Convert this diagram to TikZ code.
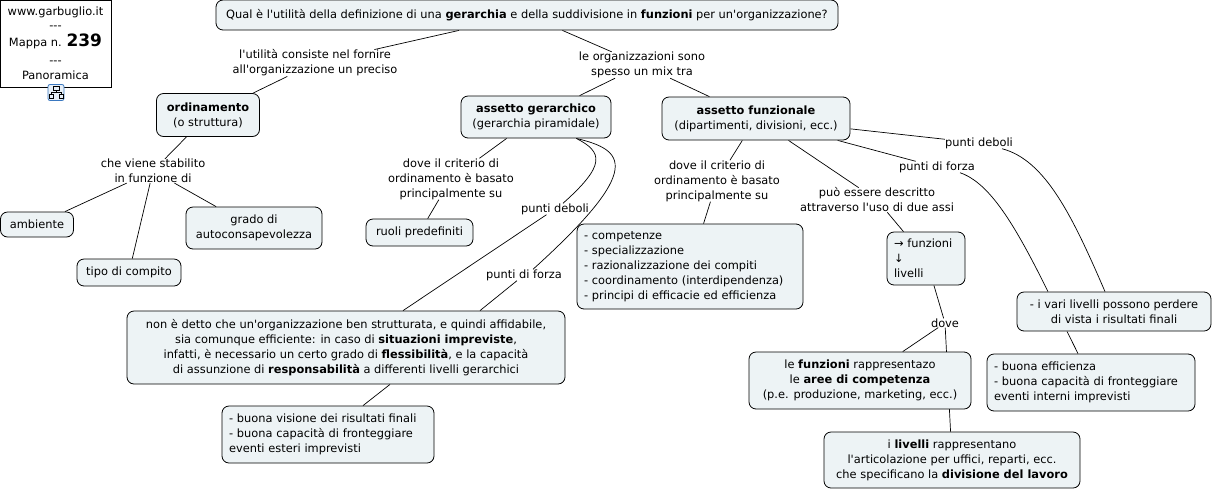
\documentclass[tikz,border=0pt]{standalone}
\usepackage{fontspec}
\newfontfamily\mapfont{DejaVu Sans}
\usetikzlibrary{backgrounds}
\definecolor{boxfill}{HTML}{EDF3F5}
\definecolor{iconblue}{HTML}{3A78C0}
\tikzstyle{concept} = [draw=black, fill=boxfill, rounded corners=7pt, line width=.8pt, inner sep=0pt, align=center]
\tikzstyle{listing} = [concept, inner xsep=7pt, align=left]
\tikzstyle{phrase} = [inner sep=0pt, align=center]
\tikzstyle{link} = [line width=.7pt]
\begin{document}
\begin{tikzpicture}[x=1pt,y=-1pt,font=\mapfont\fontsize{11.4}{15}\selectfont]
      \useasboundingbox (0,0) rectangle (1214,491);
      % info
      \node[draw=black, fill=white, line width=.8pt, inner sep=0pt, minimum width=111pt, minimum height=87pt, align=center] (info) at (55.5,43.5) {www.garbuglio.it\\[-1pt]---\\[2pt]Mappa n. {\fontsize{17}{15}\selectfont\bfseries 239}\\[3pt]---\\Panoramica};
      \node[draw=iconblue, fill=iconblue!12, rounded corners=2pt, line width=.8pt, minimum size=16pt, inner sep=0pt] (icon) at (56,92.5) {};
      \draw[line width=.7pt] (53,86.5) rectangle (59,90) (56,90) -- (56,92) (51,92) -- (61,92) (51,92) -- (51,94) (61,92) -- (61,94) (49,94) rectangle (53,98) (59,94) rectangle (63,98);
      % concepts
      \node[concept, minimum width=622pt, minimum height=30pt] (top) at (527,15) {Qual è l'utilità della definizione di una \textbf{gerarchia} e della suddivisione in \textbf{funzioni} per un'organizzazione?};
      \node[concept, minimum width=103pt, minimum height=43pt] (ord) at (208,115) {\textbf{ordinamento}\\(o struttura)};
      \node[concept, minimum width=150pt, minimum height=42pt] (ger) at (536,117) {\textbf{assetto gerarchico}\\(gerarchia piramidale)};
      \node[concept, minimum width=188pt, minimum height=43pt] (fun) at (756,118.5) {\textbf{assetto funzionale}\\(dipartimenti, divisioni, ecc.)};
      \node[concept, minimum width=73pt, minimum height=25pt] (amb) at (37,224.5) {ambiente};
      \node[concept, minimum width=104pt, minimum height=27pt] (tip) at (129,272.5) {tipo di compito};
      \node[concept, minimum width=136pt, minimum height=42pt] (gra) at (254,228) {grado di\\autoconsapevolezza};
      \node[concept, minimum width=107pt, minimum height=27pt] (ruo) at (419.5,232.5) {ruoli predefiniti};
      \node[listing, text width=212pt, minimum height=85pt] (com) at (690,266.5) {- competenze\\- specializzazione\\- razionalizzazione dei compiti\\- coordinamento (interdipendenza)\\- principi di efficacie ed efficienza};
      \node[listing, text width=64pt, minimum height=53pt] (ass) at (926,258.5) {→ funzioni\\↓\\livelli};
      \node[concept, minimum width=438pt, minimum height=73pt] (non) at (346,347.5) {non è detto che un'organizzazione ben strutturata, e quindi affidabile,\\sia comunque efficiente: in caso di \textbf{situazioni impreviste},\\infatti, è necessario un certo grado di \textbf{flessibilità}, e la capacità\\di assunzione di \textbf{responsabilità} a differenti livelli gerarchici};
      \node[listing, text width=198pt, minimum height=57pt] (vis) at (328,434.5) {- buona visione dei risultati finali\\- buona capacità di fronteggiare\\eventi esteri imprevisti};
      \node[concept, minimum width=194pt, minimum height=39pt] (var) at (1114,311.5) {- i vari livelli possono perdere\\di vista i risultati finali};
      \node[listing, text width=194pt, minimum height=57pt] (eff) at (1091,382.5) {- buona efficienza\\- buona capacità di fronteggiare\\eventi interni imprevisti};
      \node[concept, minimum width=222pt, minimum height=57pt] (fra) at (860,380.5) {le \textbf{funzioni} rappresentazo\\le \textbf{aree di competenza}\\(p.e. produzione, marketing, ecc.)};
      \node[concept, minimum width=256pt, minimum height=56pt] (lra) at (952,460) {i \textbf{livelli} rappresentano\\l'articolazione per uffici, reparti, ecc.\\che specificano la \textbf{divisione del lavoro}};
      % phrases
      \node[phrase] (p1) at (315,63) {l'utilità consiste nel fornire\\all'organizzazione un preciso};
      \node[phrase] (p2) at (642,65) {le organizzazioni sono\\spesso un mix tra};
      \node[phrase] (p3) at (153,171) {che viene stabilito\\in funzione di};
      \node[phrase] (p4) at (451,179) {dove il criterio di\\ordinamento è basato\\principalmente su};
      \node[phrase] (p5) at (717,181) {dove il criterio di\\ordinamento è basato\\principalmente su};
      \node[phrase] (p6) at (877,200) {può essere descritto\\attraverso l'uso di due assi};
      \node[phrase] (p7) at (555,209) {punti deboli};
      \node[phrase] (p8) at (524,275) {punti di forza};
      \node[phrase] (p9) at (979,143) {punti deboli};
      \node[phrase] (p10) at (937,167) {punti di forza};
      \node[phrase] (p11) at (945,323) {dove};
      % connectors
      \begin{pgfonlayer}{background}
      \draw[link] (top) -- (p1);
      \draw[link] (top) -- (p2);
      \draw[link] (p1) -- (ord);
      \draw[link] (p2) -- (ger);
      \draw[link] (p2) -- (fun);
      \draw[link] (ord) -- (p3);
      \draw[link] (p3) -- (amb);
      \draw[link] (p3) -- (tip);
      \draw[link] (p3) -- (gra);
      \draw[link] (ger) -- (p4);
      \draw[link] (p4) -- (ruo);
      \draw[link] (fun) -- (p5);
      \draw[link] (p5) -- (com);
      \draw[link] (fun) -- (p6);
      \draw[link] (p6) -- (ass);
      \draw[link] (ass) -- (p11);
      \draw[link] (p11) -- (fra);
      \draw[link] (p11) -- (lra);
      \draw[link] (fun) -- (p9);
      \draw[link] (fun) -- (p10);
      \draw[link] (ger.-28) .. controls (603,152) and (606,165) .. ([xshift=8pt]p7.north);
      \draw[link] (ger.-28) .. controls (625,150) and (645,168) .. ([xshift=9pt]p8.north);
      \draw[link] (p7) -- ([xshift=57pt]non.north);
      \draw[link] (p8) -- ([xshift=134pt]non.north);
      \draw[link] ([xshift=44pt]non.south) -- ([xshift=35pt]vis.north);
      \draw[link] ([xshift=23pt]p9.south) .. controls (1045,160) and (1072,215) .. ([xshift=-9pt]var.north);
      \draw[link] ([xshift=23pt]p10.south) .. controls (990,183) and (1015,225) .. ([xshift=-66pt]var.north);
      \draw[link] ([xshift=-47pt]var.south) -- ([xshift=-13pt]eff.north);
      \end{pgfonlayer}
    \end{tikzpicture}
\end{document}
